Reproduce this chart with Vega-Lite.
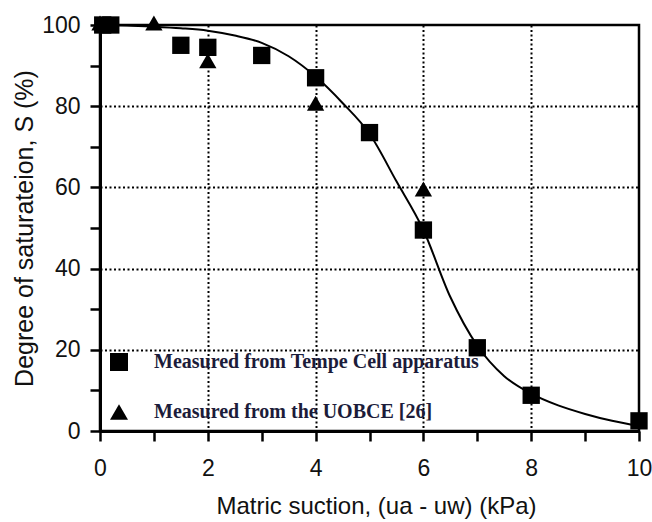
{
  "$schema": "https://vega.github.io/schema/vega-lite/v6.json",
  "width": 539,
  "height": 406,
  "autosize": {"type": "none"},
  "padding": {"left": 100, "top": 25, "right": 13, "bottom": 91},
  "background": "white",
  "config": {
    "view": {"stroke": "black", "strokeWidth": 2.5},
    "font": "Liberation Sans"
  },
  "datasets": {
    "curve": [
      {"suction": 0, "saturation": 100},
      {"suction": 0.5, "saturation": 99.9},
      {"suction": 1, "saturation": 99.6},
      {"suction": 1.5, "saturation": 99.2},
      {"suction": 2, "saturation": 98.6},
      {"suction": 2.5, "saturation": 97.4},
      {"suction": 3, "saturation": 95.6},
      {"suction": 3.5, "saturation": 92.3},
      {"suction": 4, "saturation": 87.3},
      {"suction": 4.5, "saturation": 80.8},
      {"suction": 5, "saturation": 73.2},
      {"suction": 5.5, "saturation": 61.5},
      {"suction": 6, "saturation": 49.5},
      {"suction": 6.5, "saturation": 33},
      {"suction": 7, "saturation": 21},
      {"suction": 7.5, "saturation": 13.5},
      {"suction": 8, "saturation": 9.2},
      {"suction": 8.5, "saturation": 6.3},
      {"suction": 9, "saturation": 4.2},
      {"suction": 9.5, "saturation": 2.5},
      {"suction": 10, "saturation": 1.2}
    ],
    "measured": [
      {"series": "Measured from Tempe Cell apparatus", "suction": 0.05, "saturation": 100},
      {"series": "Measured from Tempe Cell apparatus", "suction": 0.2, "saturation": 100},
      {"series": "Measured from Tempe Cell apparatus", "suction": 1.5, "saturation": 95},
      {"series": "Measured from Tempe Cell apparatus", "suction": 2, "saturation": 94.5},
      {"series": "Measured from Tempe Cell apparatus", "suction": 3, "saturation": 92.5},
      {"series": "Measured from Tempe Cell apparatus", "suction": 4, "saturation": 87},
      {"series": "Measured from Tempe Cell apparatus", "suction": 5, "saturation": 73.5},
      {"series": "Measured from Tempe Cell apparatus", "suction": 6, "saturation": 49.5},
      {"series": "Measured from Tempe Cell apparatus", "suction": 7, "saturation": 20.5},
      {"series": "Measured from Tempe Cell apparatus", "suction": 8, "saturation": 8.8},
      {"series": "Measured from Tempe Cell apparatus", "suction": 10, "saturation": 2.5},
      {"series": "Measured from the UOBCE [26]", "suction": 0, "saturation": 100.5},
      {"series": "Measured from the UOBCE [26]", "suction": 1, "saturation": 100.5},
      {"series": "Measured from the UOBCE [26]", "suction": 2, "saturation": 91.2},
      {"series": "Measured from the UOBCE [26]", "suction": 4, "saturation": 80.7},
      {"series": "Measured from the UOBCE [26]", "suction": 6, "saturation": 59.6}
    ]
  },
  "encoding": {
    "x": {
      "field": "suction",
      "type": "quantitative",
      "scale": {"domain": [0, 10], "nice": false, "zero": false},
      "axis": {
        "title": "Matric suction, (ua - uw) (kPa)",
        "values": [0, 1, 2, 3, 4, 5, 6, 7, 8, 9, 10],
        "labelExpr": "datum.value % 2 == 0 ? datum.label : ''",
        "grid": true,
        "gridColor": "black",
        "gridDash": [2, 2.5],
        "gridWidth": 2,
        "gridOpacity": {"condition": {"test": "datum.value % 2 == 0 && datum.value > 0 && datum.value < 10", "value": 1}, "value": 0},
        "domainColor": "black",
        "domainWidth": 3,
        "tickColor": "black",
        "tickWidth": 2.5,
        "tickSize": 10,
        "labelFontSize": 23,
        "labelColor": "#111111",
        "labelPadding": 16,
        "labelFlush": false,
        "labelOverlap": false,
        "titleFontSize": 24,
        "titleFontWeight": "normal",
        "titleColor": "#111111",
        "titleX": 276,
        "titleY": 82,
        "titleBaseline": "alphabetic"
      }
    },
    "y": {
      "field": "saturation",
      "type": "quantitative",
      "scale": {"domain": [0, 100], "nice": false},
      "axis": {
        "title": "Degree of saturateion, S (%)",
        "values": [0, 10, 20, 30, 40, 50, 60, 70, 80, 90, 100],
        "labelExpr": "datum.value % 20 == 0 ? datum.label : ''",
        "grid": true,
        "gridColor": "black",
        "gridDash": [2, 2.5],
        "gridWidth": 2,
        "gridOpacity": {"condition": {"test": "datum.value % 20 == 0 && datum.value > 0 && datum.value < 100", "value": 1}, "value": 0},
        "domainColor": "black",
        "domainWidth": 3,
        "tickColor": "black",
        "tickWidth": 2.5,
        "tickSize": 10,
        "labelFontSize": 23,
        "labelColor": "#111111",
        "labelPadding": 10,
        "labelFlush": false,
        "labelOverlap": false,
        "titleFontSize": 25,
        "titleFontWeight": "normal",
        "titleColor": "#111111",
        "titleX": -68,
        "titleY": 203,
        "titleBaseline": "alphabetic"
      }
    }
  },
  "layer": [
    {
      "data": {"name": "curve"},
      "mark": {"type": "line", "color": "black", "strokeWidth": 2, "interpolate": "monotone"}
    },
    {
      "data": {"name": "measured"},
      "mark": {"type": "point", "filled": true, "opacity": 1, "size": 300, "color": "black", "clip": false},
      "encoding": {
        "shape": {
          "field": "series",
          "type": "nominal",
          "scale": {
            "domain": ["Measured from Tempe Cell apparatus", "Measured from the UOBCE [26]"],
            "range": ["square", "triangle-up"]
          },
          "legend": {
            "orient": "none",
            "legendX": 9,
            "legendY": 327,
            "title": null,
            "padding": 0,
            "symbolSize": 324,
            "symbolFillColor": "black",
            "symbolStrokeWidth": 0,
            "labelFont": "Liberation Serif",
            "labelFontWeight": "bold",
            "labelFontSize": 20,
            "labelColor": "#1c1c3a",
            "labelOffset": 25,
            "rowPadding": 30,
            "labelLimit": 400
          }
        }
      }
    }
  ]
}
